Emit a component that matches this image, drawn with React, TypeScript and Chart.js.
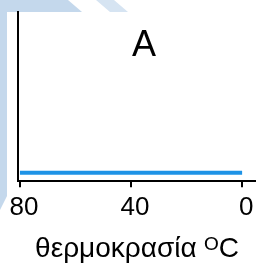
import { useEffect, useRef } from "react";
import { Chart, registerables } from "chart.js";

Chart.register(...registerables);

const temperatures = [80, 40, 0];
const values = [5, 5, 5];
const xTicks = [80, 40, 0];
const panelLabel = "A";
const xTitle = "θερμοκρασία ᴼC";

const FONT = "'Liberation Sans', Arial, sans-serif";
const DECO = "rgb(196,216,236)";

const backgroundPlugin = {
  id: "deco",
  beforeDraw(chart: any) {
    const ctx = chart.ctx as CanvasRenderingContext2D;
    const w = chart.width;
    const h = chart.height;
    ctx.save();
    ctx.fillStyle = "#ffffff";
    ctx.fillRect(0, 0, w, h);
    ctx.fillStyle = DECO;
    ctx.beginPath();
    ctx.moveTo(0, 0);
    ctx.lineTo(68, 0);
    ctx.lineTo(82, 12);
    ctx.lineTo(0, 12);
    ctx.closePath();
    ctx.fill();
    ctx.fillStyle = "rgb(214,228,242)";
    ctx.beginPath();
    ctx.moveTo(96, 0);
    ctx.lineTo(114, 0);
    ctx.lineTo(128, 12);
    ctx.lineTo(110, 12);
    ctx.closePath();
    ctx.fill();
    ctx.fillStyle = DECO;
    ctx.beginPath();
    ctx.moveTo(0, 0);
    ctx.lineTo(7, 0);
    ctx.lineTo(7, 196);
    ctx.lineTo(0, 210);
    ctx.closePath();
    ctx.fill();
    ctx.restore();
  },
};

const labelPlugin = {
  id: "panelLabel",
  afterDraw(chart: any) {
    const ctx = chart.ctx as CanvasRenderingContext2D;
    const x = chart.scales.x.getPixelForValue(35.3);
    const y = chart.scales.y.getPixelForValue(74);
    ctx.save();
    ctx.font = `36px ${FONT}`;
    ctx.fillStyle = "#000";
    ctx.textAlign = "center";
    ctx.textBaseline = "alphabetic";
    ctx.fillText(panelLabel, x, y);
    ctx.restore();
  },
};

export default function App() {
  const ref = useRef<HTMLCanvasElement>(null);
  useEffect(() => {
    if (!ref.current) return;
    const chart = new Chart(ref.current, {
      type: "line",
      data: {
        datasets: [
          {
            data: temperatures.map((t, i) => ({ x: t, y: values[i] })),
            borderColor: "#1e93e6",
            borderWidth: 4,
            pointRadius: 0,
            fill: false,
          },
        ],
      },
      options: {
        animation: false,
        responsive: false,
        devicePixelRatio: 1,
        layout: { padding: { left: 18, top: 12, right: 0, bottom: 3 } },
        plugins: {
          legend: { display: false },
          tooltip: { enabled: false },
        },
        scales: {
          x: {
            type: "linear",
            reverse: true,
            min: -5,
            max: 80.7,
            afterBuildTicks: (s: any) => {
              s.ticks = xTicks.map((v) => ({ value: v }));
            },
            ticks: {
              font: { size: 26, family: FONT },
              color: "#000",
              padding: 5,
              labelOffset: 4,
              maxRotation: 0,
              autoSkip: false,
            },
            grid: {
              drawOnChartArea: false,
              drawTicks: true,
              tickLength: 6,
              color: "#000",
              lineWidth: 2,
            },
            border: { display: true, color: "#000", width: 2 },
            title: {
              display: true,
              text: xTitle,
              font: { size: 28, family: FONT },
              color: "#000",
              padding: { top: 4, bottom: 0 },
            },
          },
          y: {
            min: 0,
            max: 100,
            ticks: { display: false },
            grid: { display: false, drawTicks: false },
            border: { display: true, color: "#000", width: 2 },
          },
        },
      },
      plugins: [backgroundPlugin, labelPlugin],
    } as any);
    return () => chart.destroy();
  }, []);
  return (
    <div style={{ position: "fixed", left: 0, top: 0, width: 256, height: 269 }}>
      <canvas ref={ref} width={256} height={269} style={{ width: 256, height: 269, display: "block" }} />
    </div>
  );
}
